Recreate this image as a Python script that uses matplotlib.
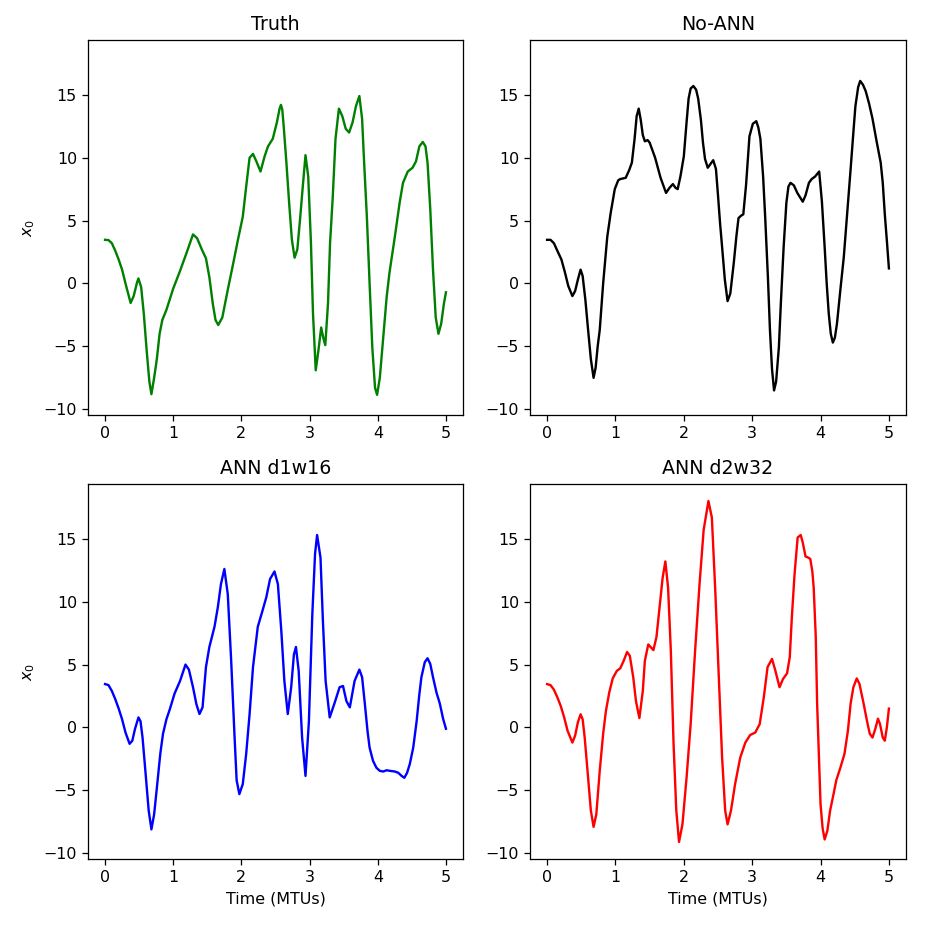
import matplotlib
matplotlib.use("Agg")
import matplotlib.pyplot as plt

# ---- data ----
truth_t = [0, 0.05, 0.1, 0.15, 0.2, 0.25, 0.3, 0.375, 0.42, 0.47, 0.49, 0.53, 0.57, 0.61, 0.65, 0.68,
           0.72, 0.76, 0.8, 0.84, 0.9, 1.0, 1.1, 1.2, 1.29, 1.35, 1.42, 1.48, 1.53, 1.58, 1.62, 1.66,
           1.72, 1.8, 1.88, 1.95, 2.02, 2.07, 2.12, 2.17, 2.22, 2.28, 2.34, 2.39, 2.46, 2.52, 2.56, 2.58,
           2.6, 2.62, 2.66, 2.7, 2.74, 2.78, 2.82, 2.86, 2.9, 2.94, 2.98, 3.02, 3.05, 3.09, 3.13, 3.17,
           3.2, 3.23, 3.27, 3.3, 3.34, 3.38, 3.43, 3.48, 3.53, 3.58, 3.63, 3.68, 3.73, 3.77, 3.8,
           3.84, 3.88, 3.92, 3.96, 3.99, 4.03, 4.08, 4.13, 4.17, 4.25, 4.32, 4.37, 4.44, 4.51, 4.56,
           4.61, 4.66, 4.7, 4.73, 4.77, 4.81, 4.85, 4.89, 4.93, 4.97, 5.0]
truth_x = [3.47, 3.45, 3.2, 2.6, 1.9, 1.1, 0.0, -1.55, -1.0, 0.1, 0.4, -0.3, -2.5, -5.3, -7.8, -8.8,
           -7.5, -6.0, -4.0, -2.9, -2.1, -0.4, 1.0, 2.5, 3.9, 3.6, 2.7, 2.0, 0.5, -1.6, -2.9, -3.3,
           -2.7, -0.5, 1.6, 3.5, 5.3, 7.7, 10.0, 10.3, 9.7, 8.9, 10.1, 10.9, 11.5, 12.8, 13.9, 14.2,
           13.8, 12.5, 9.6, 6.4, 3.5, 2.05, 2.7, 5.1, 7.7, 10.2, 8.5, 3.2, -2.4, -6.9, -5.3, -3.5,
           -4.3, -4.9, -1.6, 3.2, 6.9, 11.5, 13.9, 13.3, 12.3, 12.0, 12.8, 14.1, 14.9, 13.1, 9.6,
           5.3, 0.0, -5.1, -8.3, -8.85, -7.5, -4.3, -1.1, 0.8, 3.7, 6.4, 8.0, 8.9, 9.2, 9.7,
           10.9, 11.25, 10.9, 9.6, 5.9, 1.1, -2.7, -4.0, -3.2, -1.6, -0.7]

noann_t = [0, 0.05, 0.1, 0.15, 0.21, 0.26, 0.31, 0.37, 0.41, 0.45, 0.49, 0.52, 0.56, 0.6, 0.64, 0.68,
           0.71, 0.74, 0.77, 0.82, 0.88, 0.93, 0.99, 1.04, 1.07, 1.15, 1.2, 1.24, 1.28, 1.31, 1.34,
           1.37, 1.4, 1.43, 1.47, 1.5, 1.58, 1.66, 1.74, 1.79, 1.84, 1.88, 1.91, 1.95, 2.0, 2.04,
           2.07, 2.1, 2.14, 2.18, 2.21, 2.25, 2.28, 2.31, 2.35, 2.39, 2.43, 2.47, 2.5, 2.53, 2.56,
           2.6, 2.64, 2.68, 2.73, 2.77, 2.8, 2.84, 2.87, 2.91, 2.96, 3.01, 3.06, 3.09, 3.12, 3.16,
           3.19, 3.23, 3.26, 3.29, 3.32, 3.35, 3.39, 3.42, 3.46, 3.5, 3.53, 3.56, 3.61, 3.66, 3.74,
           3.78, 3.83, 3.87, 3.92, 3.98, 4.02, 4.06, 4.09, 4.12, 4.15, 4.18, 4.21, 4.24, 4.29, 4.34,
           4.39, 4.44, 4.48, 4.51, 4.55, 4.58, 4.62, 4.66, 4.71, 4.76, 4.82, 4.88, 4.91, 4.94, 4.97,
           5.0]
noann_x = [3.47, 3.47, 3.2, 2.6, 1.9, 0.9, -0.2, -1.0, -0.6, 0.3, 1.1, 0.6, -1.3, -3.7, -6.0, -7.5,
           -6.7, -5.0, -3.7, 0.0, 3.7, 5.6, 7.5, 8.2, 8.3, 8.4, 9.0, 9.6, 11.5, 13.3, 13.9,
           13.0, 11.8, 11.3, 11.4, 11.2, 10.0, 8.4, 7.2, 7.6, 7.9, 7.6, 7.5, 8.5, 10.1, 12.8,
           14.7, 15.5, 15.7, 15.4, 14.7, 13.0, 11.2, 9.9, 9.2, 9.5, 9.8, 9.1, 7.0, 4.8, 2.9,
           0.3, -1.4, -0.8, 1.6, 3.8, 5.2, 5.4, 5.5, 7.8, 11.7, 12.7, 12.9, 12.4, 11.5, 8.5,
           5.3, 0.5, -3.7, -6.8, -8.5, -7.8, -5.1, -1.5, 2.9, 6.4, 7.7, 8.0, 7.8, 7.2, 6.5,
           7.0, 8.0, 8.3, 8.5, 8.9, 6.5, 2.9, 0.0, -2.4, -4.0, -4.7, -4.3, -3.2, -0.5, 2.1,
           5.6, 9.1, 12.0, 14.1, 15.6, 16.1, 15.8, 15.3, 14.3, 13.1, 11.3, 9.6, 8.0, 5.5, 3.4,
           1.2]

d1w16_t = [0, 0.05, 0.1, 0.15, 0.2, 0.25, 0.3, 0.36, 0.4, 0.44, 0.49, 0.52, 0.55, 0.6, 0.64, 0.68,
           0.72, 0.76, 0.81, 0.85, 0.9, 0.95, 1.02, 1.1, 1.18, 1.23, 1.29, 1.34, 1.385, 1.43, 1.48,
           1.53, 1.605, 1.654, 1.7, 1.75, 1.8, 1.85, 1.9, 1.93, 1.97, 2.02, 2.07, 2.12, 2.17, 2.24,
           2.305, 2.365, 2.42, 2.485, 2.535, 2.585, 2.63, 2.68, 2.73, 2.77, 2.8, 2.84, 2.89, 2.94,
           2.99, 3.04, 3.08, 3.11, 3.16, 3.195, 3.235, 3.295, 3.37, 3.44, 3.49, 3.54, 3.59, 3.66,
           3.73, 3.77, 3.81, 3.85, 3.88, 3.93, 3.98, 4.03, 4.08, 4.13, 4.18, 4.25, 4.3, 4.35, 4.39,
           4.43, 4.47, 4.52, 4.57, 4.61, 4.64, 4.69, 4.73, 4.77, 4.81, 4.86, 4.91, 4.96, 5.0]
d1w16_x = [3.45, 3.37, 2.9, 2.25, 1.5, 0.65, -0.4, -1.3, -1.05, -0.1, 0.8, 0.5, -0.8, -4.0, -6.6, -8.1,
           -6.9, -4.8, -2.1, -0.5, 0.65, 1.45, 2.7, 3.7, 5.0, 4.6, 3.2, 1.85, 1.07, 1.6, 4.8,
           6.4, 8.0, 9.55, 11.4, 12.6, 10.6, 5.3, -0.8, -4.2, -5.3, -4.5, -2.1, 1.07, 4.8, 8.0,
           9.2, 10.35, 11.8, 12.4, 11.4, 7.7, 3.7, 1.07, 3.2, 5.8, 6.4, 4.5, -0.8, -3.85,
           0.5, 9.0, 13.8, 15.3, 13.5, 8.5, 3.7, 0.8, 2.0, 3.2, 3.3, 2.1, 1.6, 3.7,
           4.6, 4.0, 1.9, -0.3, -1.6, -2.65, -3.2, -3.45, -3.5, -3.4, -3.45, -3.5, -3.6, -3.85, -4.0,
           -3.6, -2.9, -1.6, 0.5, 2.65, 4.0, 5.2, 5.5, 5.05, 4.0, 2.8, 1.9, 0.65, -0.1]

d2w32_t = [0, 0.05, 0.1, 0.15, 0.2, 0.25, 0.3, 0.37, 0.41, 0.45, 0.49, 0.52, 0.55, 0.6, 0.64, 0.68,
           0.72, 0.77, 0.82, 0.86, 0.91, 0.96, 1.02, 1.07, 1.12, 1.17, 1.21, 1.26, 1.3, 1.35, 1.4,
           1.43, 1.48, 1.555, 1.6, 1.65, 1.69, 1.73, 1.77, 1.81, 1.85, 1.89, 1.93, 1.98, 2.04, 2.1,
           2.165, 2.23, 2.29, 2.36, 2.41, 2.46, 2.51, 2.56, 2.605, 2.64, 2.69, 2.75, 2.825, 2.9,
           2.97, 3.045, 3.11, 3.17, 3.225, 3.29, 3.34, 3.4, 3.45, 3.51, 3.55, 3.58, 3.62, 3.665,
           3.71, 3.74, 3.78, 3.82, 3.85, 3.88, 3.9, 3.93, 3.95, 3.98, 4.0, 4.03, 4.06, 4.1, 4.14,
           4.19, 4.23, 4.29, 4.35, 4.4, 4.44, 4.48, 4.53, 4.57, 4.63, 4.68, 4.72, 4.76, 4.8, 4.84,
           4.87, 4.91, 4.94, 4.97, 5.0]
d2w32_x = [3.45, 3.37, 3.0, 2.4, 1.7, 0.8, -0.27, -1.2, -0.65, 0.4, 1.05, 0.65, -0.8, -4.0, -6.6, -7.9,
           -6.9, -3.45, -0.5, 1.3, 2.8, 3.9, 4.5, 4.7, 5.3, 6.0, 5.7, 4.0, 2.1, 0.75, 2.9,
           5.3, 6.6, 6.15, 7.2, 9.8, 11.9, 13.2, 11.1, 6.1, -1.3, -6.6, -9.1, -7.7, -4.0, 0.27,
           6.1, 11.4, 15.7, 18.0, 16.7, 10.9, 4.25, -2.4, -6.6, -7.7, -6.6, -4.5, -2.4, -1.2,
           -0.6, -0.4, 0.27, 2.4, 4.8, 5.45, 4.5, 3.2, 3.85, 4.3, 5.6, 8.75, 12.2, 15.1,
           15.3, 14.7, 13.6, 13.5, 13.4, 12.4, 11.1, 7.2, 1.9, -2.9, -6.1, -8.0, -8.9, -8.2, -6.6,
           -5.3, -4.2, -3.2, -2.1, -0.27, 1.9, 3.2, 3.9, 3.45, 1.9, 0.5, -0.5, -0.8, -0.13, 0.7,
           0.27, -0.8, -1.05, 0.0, 1.5]

titles = ["Truth", "No-ANN", "ANN d1w16", "ANN d2w32"]
colors = ["g", "k", "b", "r"]
series = [(truth_t, truth_x), (noann_t, noann_x), (d1w16_t, d1w16_x), (d2w32_t, d2w32_x)]

# ---- figure ----
dpi = 114
fig = plt.figure(figsize=(926 / dpi, 926 / dpi), dpi=dpi)
W = 926.0
boxes = [(88, 40, 463, 415), (530, 40, 906, 415), (88, 484, 463, 859), (530, 484, 906, 859)]
axes = []
for i, (l, t, r, b) in enumerate(boxes):
    rect = [l / W, 1 - b / W, (r - l) / W, (b - t) / W]
    if i == 0:
        ax = fig.add_axes(rect)
    else:
        ax = fig.add_axes(rect, sharex=axes[0], sharey=axes[0])
    axes.append(ax)

for i, ax in enumerate(axes):
    tt, xx = series[i]
    ax.plot(tt, xx, color=colors[i], linewidth=1.5, solid_joinstyle="round")
    ax.set_title(titles[i])
    ax.tick_params(labelleft=True, labelbottom=True)
    if i in (0, 2):
        ax.set_ylabel("$x_0$")
    if i in (2, 3):
        ax.set_xlabel("Time (MTUs)")

axes[0].set_xticks([0, 1, 2, 3, 4, 5])
axes[0].set_yticks([-10, -5, 0, 5, 10, 15])

fig.savefig("out.png", dpi=dpi)
